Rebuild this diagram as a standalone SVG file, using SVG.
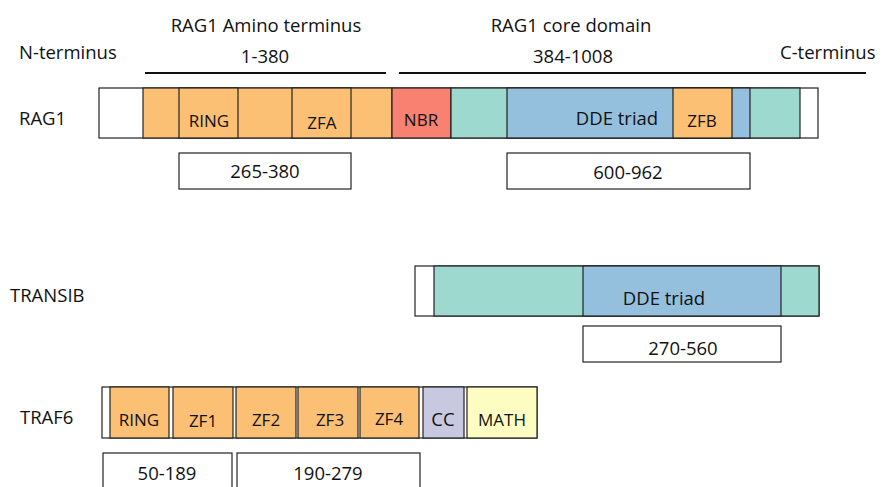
<svg xmlns="http://www.w3.org/2000/svg" width="883" height="487" viewBox="0 0 883 487">
<style>
text{font-family:"Open Sans","Liberation Sans",sans-serif;fill:#111}
.t{font-size:18.5px}
.s{font-size:17px}
.b{stroke:#222;stroke-width:1.2}
.w{fill:#fff}
.o{fill:#FCC074}
.n{fill:#F88172}
.g{fill:#9DD9CF}
.u{fill:#94BFDD}
.c{fill:#C9C8E1}
.m{fill:#FEFDC1}
</style>
<rect width="883" height="487" fill="#fff"/>
<g id="headers">
<text class="t" x="266" y="32" text-anchor="middle">RAG1 Amino terminus</text>
<text class="t" x="265" y="63" text-anchor="middle">1-380</text>
<text class="t" x="571" y="32" text-anchor="middle">RAG1 core domain</text>
<text class="t" x="573" y="63" text-anchor="middle">384-1008</text>
<text class="t" x="19" y="59">N-terminus</text>
<text class="t" x="780" y="59">C-terminus</text>
<line x1="145" y1="73" x2="386" y2="73" stroke="#111" stroke-width="2"/>
<line x1="399" y1="73" x2="866" y2="73" stroke="#111" stroke-width="2"/>
</g>
<g id="rag1">
<text class="t" x="19" y="125">RAG1</text>
<rect class="b w" x="99" y="88" width="719" height="50"/>
<rect class="b o" x="143" y="88" width="249" height="50"/>
<rect class="b o" x="179" y="88" width="59" height="50"/>
<rect class="b o" x="292" y="88" width="59" height="50"/>
<rect class="b n" x="392" y="88" width="59" height="50"/>
<rect class="b g" x="451" y="88" width="349" height="50"/>
<rect class="b u" x="507" y="88" width="243" height="50"/>
<rect class="b o" x="673" y="88" width="59" height="50"/>
<text class="s" x="209" y="127" text-anchor="middle">RING</text>
<text class="s" x="322" y="129" text-anchor="middle">ZFA</text>
<text class="s" x="421" y="126" text-anchor="middle">NBR</text>
<text class="t" x="617" y="125" text-anchor="middle">DDE triad</text>
<text class="s" x="702" y="127" text-anchor="middle">ZFB</text>
<rect class="b w" x="179" y="153" width="172" height="36"/>
<text class="t" x="265" y="178" text-anchor="middle">265-380</text>
<rect class="b w" x="507" y="153" width="243" height="36"/>
<text class="t" x="628" y="179" text-anchor="middle">600-962</text>
</g>
<g id="transib">
<text class="t" x="10" y="302">TRANSIB</text>
<rect class="b w" x="415" y="266" width="404" height="50"/>
<rect class="b g" x="434" y="266" width="385" height="50"/>
<rect class="b u" x="583" y="266" width="198" height="50"/>
<text class="t" x="664" y="305" text-anchor="middle">DDE triad</text>
<rect class="b w" x="583" y="326" width="198" height="36"/>
<text class="t" x="683" y="355" text-anchor="middle">270-560</text>
</g>
<g id="traf6">
<text class="t" x="20" y="424">TRAF6</text>
<rect class="b w" x="102" y="387" width="435" height="51"/>
<rect class="b o" x="110" y="387" width="59" height="51"/>
<rect class="b o" x="173" y="387" width="60" height="51"/>
<rect class="b o" x="236" y="387" width="60" height="51"/>
<rect class="b o" x="298" y="387" width="60" height="51"/>
<rect class="b o" x="360" y="387" width="59" height="51"/>
<rect class="b c" x="423" y="387" width="41" height="51"/>
<rect class="b m" x="467" y="387" width="70" height="51"/>
<text class="s" x="139" y="426" text-anchor="middle">RING</text>
<text class="s" x="203" y="427" text-anchor="middle">ZF1</text>
<text class="s" x="266" y="426" text-anchor="middle">ZF2</text>
<text class="s" x="330" y="426" text-anchor="middle">ZF3</text>
<text class="s" x="389" y="425" text-anchor="middle">ZF4</text>
<text class="t" x="443" y="426" text-anchor="middle">CC</text>
<text class="s" x="502" y="426" text-anchor="middle">MATH</text>
<rect class="b w" x="103" y="453" width="129" height="40"/>
<text class="t" x="167" y="480" text-anchor="middle">50-189</text>
<rect class="b w" x="237" y="453" width="183" height="40"/>
<text class="t" x="328" y="480" text-anchor="middle">190-279</text>
</g>
<g id="connectors"></g>
</svg>
